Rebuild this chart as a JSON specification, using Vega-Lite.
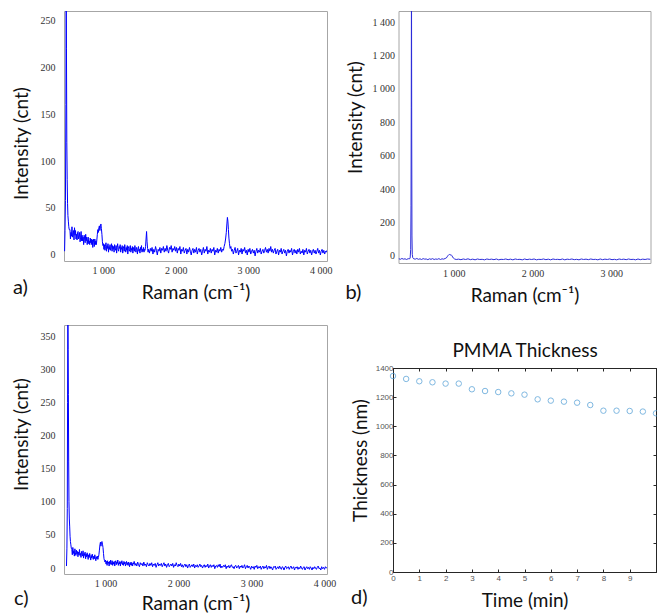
{
  "$schema": "https://vega.github.io/schema/vega-lite/v6.json",
  "background": "white",
  "padding": {"left": 11, "top": 10, "right": 0, "bottom": 0},
  "config": {
    "locale": {"number": {"decimal": ".", "thousands": " ", "grouping": [3], "currency": ["", ""]}},
    "view": {"stroke": "#a6a6a6"},
    "axis": {"grid": false, "ticks": false, "domain": false, "labelFlush": false, "labelFont": "Liberation Serif", "labelFontSize": 10, "labelColor": "#333333", "titleFont": "Lato", "titleFontSize": 19, "titleFontWeight": "normal", "titleColor": "#111111"},
    "title": {"font": "Lato", "fontSize": 20, "fontWeight": "normal", "color": "#111111", "frame": "group"}
  },
  "datasets": {
    "a": [
      {"raman":466,"cnt":4},{"raman":472,"cnt":26},{"raman":478,"cnt":58},{"raman":484,"cnt":160},{"raman":488,"cnt":300},{"raman":492,"cnt":220},{"raman":497,"cnt":120},{"raman":502,"cnt":80},{"raman":507,"cnt":55},{"raman":512,"cnt":42},{"raman":518,"cnt":36},{"raman":524,"cnt":30},{"raman":530,"cnt":27},
      {"raman":540,"cnt":27},{"raman":547,"cnt":17},{"raman":554,"cnt":24},{"raman":561,"cnt":20},{"raman":568,"cnt":30},{"raman":575,"cnt":19},{"raman":582,"cnt":22},{"raman":589,"cnt":26},{"raman":596,"cnt":16},{"raman":603,"cnt":29},{"raman":610,"cnt":21},{"raman":617,"cnt":26},{"raman":624,"cnt":17},{"raman":631,"cnt":22},{"raman":638,"cnt":16},{"raman":645,"cnt":24},{"raman":652,"cnt":25},{"raman":659,"cnt":17},{"raman":666,"cnt":19},{"raman":673,"cnt":24},{"raman":680,"cnt":14},{"raman":687,"cnt":19},{"raman":694,"cnt":25},{"raman":701,"cnt":15},{"raman":708,"cnt":21},{"raman":715,"cnt":15},{"raman":722,"cnt":19},{"raman":729,"cnt":11},{"raman":736,"cnt":21},{"raman":743,"cnt":17},{"raman":750,"cnt":13},{"raman":757,"cnt":22},{"raman":764,"cnt":15},{"raman":771,"cnt":19},{"raman":778,"cnt":11},{"raman":785,"cnt":16},{"raman":792,"cnt":19},{"raman":799,"cnt":12},{"raman":806,"cnt":15},{"raman":813,"cnt":11},{"raman":820,"cnt":18},{"raman":827,"cnt":13},{"raman":834,"cnt":17},{"raman":841,"cnt":11},{"raman":848,"cnt":16},{"raman":855,"cnt":8},{"raman":862,"cnt":17},{"raman":869,"cnt":13},{"raman":876,"cnt":9},{"raman":883,"cnt":17},{"raman":890,"cnt":11},{"raman":897,"cnt":15},{"raman":904,"cnt":11},
      {"raman":911,"cnt":16},{"raman":918,"cnt":22},{"raman":925,"cnt":27},{"raman":932,"cnt":24},{"raman":939,"cnt":29},{"raman":946,"cnt":31},{"raman":953,"cnt":26},{"raman":960,"cnt":30},{"raman":967,"cnt":33},{"raman":974,"cnt":28},{"raman":981,"cnt":22},{"raman":988,"cnt":14},{"raman":995,"cnt":10},{"raman":1002,"cnt":12},{"raman":1009,"cnt":6},
      {"raman":1016,"cnt":11},{"raman":1023,"cnt":5},{"raman":1030,"cnt":9},{"raman":1037,"cnt":13},{"raman":1044,"cnt":4},{"raman":1051,"cnt":10},{"raman":1058,"cnt":7},{"raman":1065,"cnt":12},{"raman":1072,"cnt":3},{"raman":1079,"cnt":9},{"raman":1086,"cnt":6},{"raman":1093,"cnt":11},{"raman":1100,"cnt":5},{"raman":1107,"cnt":8},{"raman":1114,"cnt":12},{"raman":1121,"cnt":4},{"raman":1128,"cnt":10},{"raman":1135,"cnt":6},{"raman":1142,"cnt":9},{"raman":1149,"cnt":3},{"raman":1156,"cnt":11},{"raman":1163,"cnt":7},{"raman":1170,"cnt":5},{"raman":1177,"cnt":10},{"raman":1184,"cnt":2},{"raman":1191,"cnt":8},{"raman":1198,"cnt":12},{"raman":1205,"cnt":6},{"raman":1212,"cnt":4},{"raman":1219,"cnt":9},{"raman":1226,"cnt":7},{"raman":1233,"cnt":11},{"raman":1240,"cnt":3},{"raman":1247,"cnt":8},{"raman":1254,"cnt":6},{"raman":1261,"cnt":10},{"raman":1268,"cnt":2},{"raman":1275,"cnt":7},{"raman":1282,"cnt":9},{"raman":1289,"cnt":4},{"raman":1296,"cnt":11},{"raman":1303,"cnt":6},{"raman":1310,"cnt":3},{"raman":1317,"cnt":8},{"raman":1324,"cnt":5},{"raman":1331,"cnt":10},{"raman":1338,"cnt":1},{"raman":1345,"cnt":7},{"raman":1352,"cnt":9},{"raman":1359,"cnt":4},{"raman":1366,"cnt":6},{"raman":1373,"cnt":10},{"raman":1380,"cnt":3},{"raman":1387,"cnt":7},{"raman":1394,"cnt":5},{"raman":1401,"cnt":9},{"raman":1408,"cnt":2},{"raman":1415,"cnt":8},{"raman":1422,"cnt":6},{"raman":1429,"cnt":4},{"raman":1436,"cnt":10},{"raman":1443,"cnt":5},{"raman":1450,"cnt":3},{"raman":1457,"cnt":8},{"raman":1464,"cnt":6},{"raman":1471,"cnt":1},{"raman":1478,"cnt":7},{"raman":1485,"cnt":9},{"raman":1492,"cnt":4},{"raman":1499,"cnt":6},{"raman":1506,"cnt":2},{"raman":1513,"cnt":8},{"raman":1520,"cnt":5},{"raman":1527,"cnt":10},{"raman":1534,"cnt":3},{"raman":1541,"cnt":6},{"raman":1548,"cnt":4},{"raman":1555,"cnt":8},{"raman":1562,"cnt":3},{"raman":1569,"cnt":6},{"raman":1576,"cnt":5},{"raman":1583,"cnt":9},{"raman":1590,"cnt":17},{"raman":1597,"cnt":25},{"raman":1604,"cnt":14},{"raman":1611,"cnt":7},{"raman":1618,"cnt":3},{"raman":1625,"cnt":6},
      {"raman":1637,"cnt":2},{"raman":1649,"cnt":7},{"raman":1661,"cnt":4},{"raman":1673,"cnt":8},{"raman":1685,"cnt":1},{"raman":1697,"cnt":6},{"raman":1709,"cnt":3},{"raman":1721,"cnt":9},{"raman":1733,"cnt":5},{"raman":1745,"cnt":0},{"raman":1757,"cnt":6},{"raman":1769,"cnt":4},{"raman":1781,"cnt":8},{"raman":1793,"cnt":2},{"raman":1805,"cnt":7},{"raman":1817,"cnt":5},{"raman":1829,"cnt":9},{"raman":1841,"cnt":3},{"raman":1853,"cnt":7},{"raman":1865,"cnt":4},{"raman":1877,"cnt":10},{"raman":1889,"cnt":5},{"raman":1901,"cnt":2},{"raman":1913,"cnt":8},{"raman":1925,"cnt":6},{"raman":1937,"cnt":10},{"raman":1949,"cnt":3},{"raman":1961,"cnt":7},{"raman":1973,"cnt":5},{"raman":1985,"cnt":9},{"raman":1997,"cnt":4},{"raman":2009,"cnt":8},{"raman":2021,"cnt":2},{"raman":2033,"cnt":7},{"raman":2045,"cnt":5},{"raman":2057,"cnt":9},{"raman":2069,"cnt":1},{"raman":2081,"cnt":6},{"raman":2093,"cnt":4},{"raman":2105,"cnt":8},{"raman":2117,"cnt":2},{"raman":2129,"cnt":5},{"raman":2141,"cnt":7},{"raman":2153,"cnt":1},{"raman":2165,"cnt":6},{"raman":2177,"cnt":3},{"raman":2189,"cnt":8},{"raman":2201,"cnt":4},{"raman":2213,"cnt":0},{"raman":2225,"cnt":5},{"raman":2237,"cnt":7},{"raman":2249,"cnt":2},{"raman":2261,"cnt":6},{"raman":2273,"cnt":3},{"raman":2285,"cnt":8},{"raman":2297,"cnt":1},{"raman":2309,"cnt":5},{"raman":2321,"cnt":7},{"raman":2333,"cnt":3},{"raman":2345,"cnt":6},{"raman":2357,"cnt":0},{"raman":2369,"cnt":4},{"raman":2381,"cnt":8},{"raman":2393,"cnt":2},{"raman":2405,"cnt":6},{"raman":2417,"cnt":4},{"raman":2429,"cnt":9},{"raman":2441,"cnt":1},{"raman":2453,"cnt":5},{"raman":2465,"cnt":3},{"raman":2477,"cnt":7},{"raman":2489,"cnt":2},{"raman":2501,"cnt":6},{"raman":2513,"cnt":4},{"raman":2525,"cnt":8},{"raman":2537,"cnt":0},{"raman":2549,"cnt":5},{"raman":2561,"cnt":3},{"raman":2573,"cnt":7},{"raman":2585,"cnt":2},{"raman":2597,"cnt":6},{"raman":2609,"cnt":4},{"raman":2621,"cnt":8},{"raman":2633,"cnt":3},{"raman":2645,"cnt":6},
      {"raman":2657,"cnt":5},{"raman":2667,"cnt":9},{"raman":2677,"cnt":12},{"raman":2687,"cnt":17},{"raman":2697,"cnt":24},{"raman":2705,"cnt":33},{"raman":2712,"cnt":40},{"raman":2719,"cnt":36},{"raman":2726,"cnt":27},{"raman":2733,"cnt":18},{"raman":2741,"cnt":12},{"raman":2750,"cnt":7},{"raman":2760,"cnt":9},{"raman":2770,"cnt":4},
      {"raman":2782,"cnt":6},{"raman":2794,"cnt":1},{"raman":2806,"cnt":5},{"raman":2818,"cnt":8},{"raman":2830,"cnt":2},{"raman":2842,"cnt":4},{"raman":2854,"cnt":7},{"raman":2866,"cnt":0},{"raman":2878,"cnt":5},{"raman":2890,"cnt":3},{"raman":2902,"cnt":7},{"raman":2914,"cnt":1},{"raman":2926,"cnt":6},{"raman":2938,"cnt":4},{"raman":2950,"cnt":8},{"raman":2962,"cnt":2},{"raman":2974,"cnt":5},{"raman":2986,"cnt":0},{"raman":2998,"cnt":6},{"raman":3010,"cnt":3},{"raman":3022,"cnt":7},{"raman":3034,"cnt":1},{"raman":3046,"cnt":4},{"raman":3058,"cnt":6},{"raman":3070,"cnt":2},{"raman":3082,"cnt":5},{"raman":3094,"cnt":-1},{"raman":3106,"cnt":4},{"raman":3118,"cnt":7},{"raman":3130,"cnt":2},{"raman":3142,"cnt":5},{"raman":3154,"cnt":3},{"raman":3166,"cnt":7},{"raman":3178,"cnt":1},{"raman":3190,"cnt":4},{"raman":3202,"cnt":6},{"raman":3214,"cnt":2},{"raman":3226,"cnt":5},{"raman":3238,"cnt":8},{"raman":3250,"cnt":3},{"raman":3262,"cnt":6},{"raman":3274,"cnt":2},{"raman":3286,"cnt":7},{"raman":3298,"cnt":4},{"raman":3310,"cnt":9},{"raman":3322,"cnt":3},{"raman":3334,"cnt":6},{"raman":3346,"cnt":2},{"raman":3358,"cnt":5},{"raman":3370,"cnt":7},{"raman":3382,"cnt":1},{"raman":3394,"cnt":4},{"raman":3406,"cnt":6},{"raman":3418,"cnt":0},{"raman":3430,"cnt":5},{"raman":3442,"cnt":3},{"raman":3454,"cnt":7},{"raman":3466,"cnt":1},{"raman":3478,"cnt":4},{"raman":3490,"cnt":6},{"raman":3502,"cnt":2},{"raman":3514,"cnt":5},{"raman":3526,"cnt":-1},{"raman":3538,"cnt":4},{"raman":3550,"cnt":6},{"raman":3562,"cnt":2},{"raman":3574,"cnt":5},{"raman":3586,"cnt":3},{"raman":3598,"cnt":7},{"raman":3610,"cnt":0},{"raman":3622,"cnt":4},{"raman":3634,"cnt":6},{"raman":3646,"cnt":2},{"raman":3658,"cnt":5},{"raman":3670,"cnt":1},{"raman":3682,"cnt":6},{"raman":3694,"cnt":3},{"raman":3706,"cnt":7},{"raman":3718,"cnt":1},{"raman":3730,"cnt":4},{"raman":3742,"cnt":2},{"raman":3754,"cnt":6},{"raman":3766,"cnt":0},{"raman":3778,"cnt":5},{"raman":3790,"cnt":3},{"raman":3802,"cnt":7},{"raman":3814,"cnt":1},{"raman":3826,"cnt":4},{"raman":3838,"cnt":6},{"raman":3850,"cnt":2},{"raman":3862,"cnt":5},{"raman":3874,"cnt":0},{"raman":3886,"cnt":4},{"raman":3898,"cnt":6},{"raman":3910,"cnt":2},{"raman":3922,"cnt":5},{"raman":3934,"cnt":1},{"raman":3946,"cnt":4},{"raman":3958,"cnt":7},{"raman":3970,"cnt":2},{"raman":3982,"cnt":5},{"raman":3994,"cnt":0},{"raman":4006,"cnt":4},{"raman":4018,"cnt":6},{"raman":4030,"cnt":2},{"raman":4042,"cnt":5},{"raman":4054,"cnt":1},{"raman":4066,"cnt":4},{"raman":4078,"cnt":3},{"raman":4086,"cnt":5}
    ],
    "b": [
      {"raman":300,"cnt":-16},{"raman":320,"cnt":-20},{"raman":340,"cnt":-15},{"raman":360,"cnt":-19},{"raman":380,"cnt":-17},{"raman":400,"cnt":-21},{"raman":420,"cnt":-16},{"raman":435,"cnt":-18},{"raman":445,"cnt":-12},{"raman":452,"cnt":40},{"raman":456,"cnt":300},{"raman":459,"cnt":890},{"raman":462,"cnt":1700},{"raman":465,"cnt":700},{"raman":468,"cnt":120},{"raman":472,"cnt":10},{"raman":478,"cnt":-10},{"raman":490,"cnt":-17},{"raman":510,"cnt":-19},{"raman":530,"cnt":-15},{"raman":550,"cnt":-20},{"raman":570,"cnt":-17},{"raman":590,"cnt":-21},{"raman":610,"cnt":-16},{"raman":630,"cnt":-19},{"raman":650,"cnt":-18},{"raman":670,"cnt":-22},{"raman":690,"cnt":-17},{"raman":710,"cnt":-20},{"raman":730,"cnt":-16},{"raman":750,"cnt":-21},{"raman":770,"cnt":-18},{"raman":790,"cnt":-20},{"raman":810,"cnt":-16},{"raman":830,"cnt":-21},{"raman":850,"cnt":-17},{"raman":870,"cnt":-19},{"raman":890,"cnt":-15},{"raman":905,"cnt":-12},{"raman":915,"cnt":-5},{"raman":925,"cnt":2},{"raman":935,"cnt":7},{"raman":945,"cnt":9},{"raman":955,"cnt":6},{"raman":965,"cnt":8},{"raman":975,"cnt":2},{"raman":985,"cnt":-6},{"raman":995,"cnt":-13},{"raman":1010,"cnt":-18},{"raman":1030,"cnt":-21},
      {"raman":1060,"cnt":-19},{"raman":1090,"cnt":-22},{"raman":1120,"cnt":-18},{"raman":1150,"cnt":-21},{"raman":1180,"cnt":-17},{"raman":1210,"cnt":-22},{"raman":1240,"cnt":-19},{"raman":1270,"cnt":-23},{"raman":1300,"cnt":-18},{"raman":1330,"cnt":-21},{"raman":1360,"cnt":-20},{"raman":1390,"cnt":-23},{"raman":1420,"cnt":-18},{"raman":1450,"cnt":-21},{"raman":1480,"cnt":-19},{"raman":1510,"cnt":-22},{"raman":1540,"cnt":-18},{"raman":1570,"cnt":-23},{"raman":1600,"cnt":-20},{"raman":1630,"cnt":-21},{"raman":1660,"cnt":-18},{"raman":1690,"cnt":-22},{"raman":1720,"cnt":-19},{"raman":1750,"cnt":-23},{"raman":1780,"cnt":-18},{"raman":1810,"cnt":-21},{"raman":1840,"cnt":-20},{"raman":1870,"cnt":-23},{"raman":1900,"cnt":-18},{"raman":1930,"cnt":-22},{"raman":1960,"cnt":-19},{"raman":1990,"cnt":-21},{"raman":2020,"cnt":-18},{"raman":2050,"cnt":-23},{"raman":2080,"cnt":-20},{"raman":2110,"cnt":-21},{"raman":2140,"cnt":-18},{"raman":2170,"cnt":-22},{"raman":2200,"cnt":-19},{"raman":2230,"cnt":-23},{"raman":2260,"cnt":-18},{"raman":2290,"cnt":-21},{"raman":2320,"cnt":-20},{"raman":2350,"cnt":-22},{"raman":2380,"cnt":-18},{"raman":2410,"cnt":-23},{"raman":2440,"cnt":-19},{"raman":2470,"cnt":-21},{"raman":2500,"cnt":-18},{"raman":2530,"cnt":-22},{"raman":2560,"cnt":-20},{"raman":2590,"cnt":-23},{"raman":2620,"cnt":-18},{"raman":2650,"cnt":-21},{"raman":2680,"cnt":-19},{"raman":2710,"cnt":-22},{"raman":2740,"cnt":-18},{"raman":2770,"cnt":-21},{"raman":2800,"cnt":-20},{"raman":2830,"cnt":-23},{"raman":2860,"cnt":-18},{"raman":2890,"cnt":-22},{"raman":2920,"cnt":-19},{"raman":2950,"cnt":-21},{"raman":2980,"cnt":-18},{"raman":3010,"cnt":-22},{"raman":3040,"cnt":-20},{"raman":3070,"cnt":-23},{"raman":3100,"cnt":-18},{"raman":3130,"cnt":-21},{"raman":3160,"cnt":-19},{"raman":3190,"cnt":-22},{"raman":3220,"cnt":-18},{"raman":3250,"cnt":-21},{"raman":3280,"cnt":-20},{"raman":3310,"cnt":-23},{"raman":3340,"cnt":-18},{"raman":3370,"cnt":-22},{"raman":3400,"cnt":-19},{"raman":3430,"cnt":-21},{"raman":3460,"cnt":-18},{"raman":3499,"cnt":-20}
    ],
    "c": [
      {"raman":466,"cnt":3},{"raman":472,"cnt":30},{"raman":477,"cnt":90},{"raman":481,"cnt":250},{"raman":485,"cnt":420},{"raman":489,"cnt":330},{"raman":492,"cnt":262},{"raman":496,"cnt":160},{"raman":500,"cnt":100},{"raman":505,"cnt":74},{"raman":510,"cnt":62},{"raman":515,"cnt":48},{"raman":520,"cnt":40},{"raman":526,"cnt":35},{"raman":532,"cnt":30},
      {"raman":539,"cnt":28},{"raman":546,"cnt":20},{"raman":553,"cnt":31},{"raman":560,"cnt":22},{"raman":567,"cnt":26},{"raman":574,"cnt":18},{"raman":581,"cnt":29},{"raman":588,"cnt":23},{"raman":595,"cnt":19},{"raman":602,"cnt":27},{"raman":609,"cnt":21},{"raman":616,"cnt":25},{"raman":623,"cnt":17},{"raman":630,"cnt":24},{"raman":637,"cnt":20},{"raman":644,"cnt":28},{"raman":651,"cnt":19},{"raman":658,"cnt":22},{"raman":665,"cnt":16},{"raman":672,"cnt":25},{"raman":679,"cnt":21},{"raman":686,"cnt":18},{"raman":693,"cnt":26},{"raman":700,"cnt":15},{"raman":707,"cnt":22},{"raman":714,"cnt":19},{"raman":721,"cnt":24},{"raman":728,"cnt":14},{"raman":735,"cnt":21},{"raman":742,"cnt":17},{"raman":749,"cnt":23},{"raman":756,"cnt":18},{"raman":763,"cnt":13},{"raman":770,"cnt":20},{"raman":777,"cnt":16},{"raman":784,"cnt":22},{"raman":791,"cnt":17},{"raman":798,"cnt":12},{"raman":805,"cnt":19},{"raman":812,"cnt":15},{"raman":819,"cnt":21},{"raman":826,"cnt":16},{"raman":833,"cnt":13},{"raman":840,"cnt":18},{"raman":847,"cnt":14},{"raman":854,"cnt":20},{"raman":861,"cnt":15},{"raman":868,"cnt":11},{"raman":875,"cnt":17},{"raman":882,"cnt":14},{"raman":889,"cnt":18},{"raman":896,"cnt":13},{"raman":903,"cnt":16},
      {"raman":910,"cnt":20},{"raman":917,"cnt":27},{"raman":924,"cnt":35},{"raman":931,"cnt":39},{"raman":938,"cnt":33},{"raman":945,"cnt":38},{"raman":952,"cnt":40},{"raman":959,"cnt":36},{"raman":966,"cnt":31},{"raman":973,"cnt":22},{"raman":980,"cnt":14},{"raman":987,"cnt":11},{"raman":994,"cnt":9},
      {"raman":1001,"cnt":12},{"raman":1008,"cnt":6},{"raman":1015,"cnt":10},{"raman":1022,"cnt":4},{"raman":1029,"cnt":11},{"raman":1036,"cnt":7},{"raman":1043,"cnt":9},{"raman":1050,"cnt":3},{"raman":1057,"cnt":10},{"raman":1064,"cnt":6},{"raman":1071,"cnt":12},{"raman":1078,"cnt":5},{"raman":1085,"cnt":8},{"raman":1092,"cnt":11},{"raman":1099,"cnt":4},{"raman":1106,"cnt":9},{"raman":1113,"cnt":6},{"raman":1120,"cnt":10},{"raman":1127,"cnt":3},{"raman":1134,"cnt":8},{"raman":1141,"cnt":11},{"raman":1148,"cnt":5},{"raman":1155,"cnt":9},{"raman":1162,"cnt":7},{"raman":1169,"cnt":12},{"raman":1176,"cnt":4},{"raman":1183,"cnt":8},{"raman":1190,"cnt":6},{"raman":1197,"cnt":10},{"raman":1204,"cnt":3},{"raman":1211,"cnt":9},{"raman":1218,"cnt":7},{"raman":1225,"cnt":11},{"raman":1232,"cnt":5},{"raman":1239,"cnt":8},{"raman":1246,"cnt":4},{"raman":1253,"cnt":10},{"raman":1260,"cnt":6},{"raman":1267,"cnt":9},{"raman":1274,"cnt":3},{"raman":1281,"cnt":7},{"raman":1288,"cnt":10},{"raman":1295,"cnt":5},{"raman":1302,"cnt":8},{"raman":1309,"cnt":4},{"raman":1316,"cnt":9},{"raman":1323,"cnt":6},{"raman":1330,"cnt":2},{"raman":1337,"cnt":8},{"raman":1344,"cnt":5},{"raman":1351,"cnt":9},{"raman":1358,"cnt":4},{"raman":1365,"cnt":7},{"raman":1372,"cnt":3},{"raman":1379,"cnt":8},{"raman":1386,"cnt":6},{"raman":1393,"cnt":10},
      {"raman":1405,"cnt":4},{"raman":1417,"cnt":7},{"raman":1429,"cnt":3},{"raman":1441,"cnt":9},{"raman":1453,"cnt":5},{"raman":1465,"cnt":2},{"raman":1477,"cnt":8},{"raman":1489,"cnt":5},{"raman":1501,"cnt":7},{"raman":1513,"cnt":3},{"raman":1525,"cnt":9},{"raman":1537,"cnt":4},{"raman":1549,"cnt":6},{"raman":1561,"cnt":2},{"raman":1573,"cnt":8},{"raman":1585,"cnt":5},{"raman":1597,"cnt":3},{"raman":1609,"cnt":7},{"raman":1621,"cnt":4},{"raman":1633,"cnt":8},{"raman":1645,"cnt":2},{"raman":1657,"cnt":6},{"raman":1669,"cnt":4},{"raman":1681,"cnt":7},{"raman":1693,"cnt":1},{"raman":1705,"cnt":5},{"raman":1717,"cnt":8},{"raman":1729,"cnt":3},{"raman":1741,"cnt":6},{"raman":1753,"cnt":4},{"raman":1765,"cnt":7},{"raman":1777,"cnt":2},{"raman":1789,"cnt":5},{"raman":1801,"cnt":8},{"raman":1813,"cnt":3},{"raman":1825,"cnt":6},{"raman":1837,"cnt":1},{"raman":1849,"cnt":5},{"raman":1861,"cnt":7},{"raman":1873,"cnt":2},{"raman":1885,"cnt":4},{"raman":1897,"cnt":6},{"raman":1909,"cnt":3},{"raman":1921,"cnt":7},{"raman":1933,"cnt":1},{"raman":1945,"cnt":5},{"raman":1957,"cnt":3},{"raman":1969,"cnt":8},{"raman":1981,"cnt":4},{"raman":1993,"cnt":2},
      {"raman":2005,"cnt":6},{"raman":2017,"cnt":3},{"raman":2029,"cnt":7},{"raman":2041,"cnt":2},{"raman":2053,"cnt":5},{"raman":2065,"cnt":1},{"raman":2077,"cnt":4},{"raman":2089,"cnt":6},{"raman":2101,"cnt":2},{"raman":2113,"cnt":5},{"raman":2125,"cnt":0},{"raman":2137,"cnt":4},{"raman":2149,"cnt":6},{"raman":2161,"cnt":1},{"raman":2173,"cnt":3},{"raman":2185,"cnt":5},{"raman":2197,"cnt":2},{"raman":2209,"cnt":6},{"raman":2221,"cnt":0},{"raman":2233,"cnt":4},{"raman":2245,"cnt":2},{"raman":2257,"cnt":5},{"raman":2269,"cnt":1},{"raman":2281,"cnt":3},{"raman":2293,"cnt":6},{"raman":2305,"cnt":2},{"raman":2317,"cnt":4},{"raman":2329,"cnt":0},{"raman":2341,"cnt":3},{"raman":2353,"cnt":5},{"raman":2365,"cnt":1},{"raman":2377,"cnt":4},{"raman":2389,"cnt":2},{"raman":2401,"cnt":6},{"raman":2413,"cnt":0},{"raman":2425,"cnt":3},{"raman":2437,"cnt":5},{"raman":2449,"cnt":1},{"raman":2461,"cnt":4},{"raman":2473,"cnt":2},{"raman":2485,"cnt":5},{"raman":2497,"cnt":-1},{"raman":2509,"cnt":3},{"raman":2521,"cnt":4},{"raman":2533,"cnt":1},{"raman":2545,"cnt":5},{"raman":2557,"cnt":2},{"raman":2569,"cnt":6},{"raman":2581,"cnt":0},{"raman":2593,"cnt":3},{"raman":2605,"cnt":1},{"raman":2617,"cnt":4},{"raman":2629,"cnt":2},{"raman":2641,"cnt":5},{"raman":2653,"cnt":-1},{"raman":2665,"cnt":3},{"raman":2677,"cnt":1},{"raman":2689,"cnt":4},{"raman":2701,"cnt":0},{"raman":2713,"cnt":3},{"raman":2725,"cnt":5},{"raman":2737,"cnt":1},{"raman":2749,"cnt":2},{"raman":2761,"cnt":-1},{"raman":2773,"cnt":3},{"raman":2785,"cnt":4},{"raman":2797,"cnt":0},{"raman":2809,"cnt":2},{"raman":2821,"cnt":4},{"raman":2833,"cnt":-1},{"raman":2845,"cnt":3},{"raman":2857,"cnt":1},{"raman":2869,"cnt":4},{"raman":2881,"cnt":0},{"raman":2893,"cnt":2},{"raman":2905,"cnt":5},{"raman":2917,"cnt":-1},{"raman":2929,"cnt":2},{"raman":2941,"cnt":4},{"raman":2953,"cnt":0},{"raman":2965,"cnt":3},{"raman":2977,"cnt":1},{"raman":2989,"cnt":-2},
      {"raman":3001,"cnt":3},{"raman":3013,"cnt":0},{"raman":3025,"cnt":2},{"raman":3037,"cnt":-2},{"raman":3049,"cnt":3},{"raman":3061,"cnt":1},{"raman":3073,"cnt":4},{"raman":3085,"cnt":-1},{"raman":3097,"cnt":2},{"raman":3109,"cnt":0},{"raman":3121,"cnt":3},{"raman":3133,"cnt":-2},{"raman":3145,"cnt":1},{"raman":3157,"cnt":3},{"raman":3169,"cnt":-1},{"raman":3181,"cnt":2},{"raman":3193,"cnt":0},{"raman":3205,"cnt":4},{"raman":3217,"cnt":-2},{"raman":3229,"cnt":1},{"raman":3241,"cnt":3},{"raman":3253,"cnt":-1},{"raman":3265,"cnt":2},{"raman":3277,"cnt":0},{"raman":3289,"cnt":-3},{"raman":3301,"cnt":2},{"raman":3313,"cnt":1},{"raman":3325,"cnt":3},{"raman":3337,"cnt":-2},{"raman":3349,"cnt":0},{"raman":3361,"cnt":2},{"raman":3373,"cnt":-1},{"raman":3385,"cnt":3},{"raman":3397,"cnt":0},{"raman":3409,"cnt":-2},{"raman":3421,"cnt":2},{"raman":3433,"cnt":1},{"raman":3445,"cnt":-3},{"raman":3457,"cnt":1},{"raman":3469,"cnt":3},{"raman":3481,"cnt":-1},{"raman":3493,"cnt":0},{"raman":3505,"cnt":2},{"raman":3517,"cnt":-2},{"raman":3529,"cnt":1},{"raman":3541,"cnt":3},{"raman":3553,"cnt":-1},{"raman":3565,"cnt":0},{"raman":3577,"cnt":2},{"raman":3589,"cnt":-3},{"raman":3601,"cnt":1},{"raman":3613,"cnt":0},{"raman":3625,"cnt":2},{"raman":3637,"cnt":-2},{"raman":3649,"cnt":1},{"raman":3661,"cnt":-1},{"raman":3673,"cnt":3},{"raman":3685,"cnt":0},{"raman":3697,"cnt":-2},{"raman":3709,"cnt":1},{"raman":3721,"cnt":2},{"raman":3733,"cnt":-3},{"raman":3745,"cnt":0},{"raman":3757,"cnt":2},{"raman":3769,"cnt":-1},{"raman":3781,"cnt":1},{"raman":3793,"cnt":-2},{"raman":3805,"cnt":2},{"raman":3817,"cnt":0},{"raman":3829,"cnt":-3},{"raman":3841,"cnt":1},{"raman":3853,"cnt":-1},{"raman":3865,"cnt":2},{"raman":3877,"cnt":0},{"raman":3889,"cnt":-2},{"raman":3901,"cnt":1},{"raman":3913,"cnt":3},{"raman":3925,"cnt":-1},{"raman":3937,"cnt":0},{"raman":3949,"cnt":-3},{"raman":3961,"cnt":2},{"raman":3973,"cnt":-1},{"raman":3985,"cnt":1},{"raman":4000,"cnt":-2},{"raman":4012,"cnt":2},{"raman":4024,"cnt":0},{"raman":4034,"cnt":1}
    ],
    "d": [
      {"time":0,"thickness":1345},{"time":0.5,"thickness":1325},{"time":1,"thickness":1309},{"time":1.5,"thickness":1302},{"time":2,"thickness":1293},{"time":2.5,"thickness":1293},{"time":3,"thickness":1254},{"time":3.5,"thickness":1242},{"time":4,"thickness":1235},{"time":4.5,"thickness":1226},{"time":5,"thickness":1217},{"time":5.5,"thickness":1185},{"time":6,"thickness":1176},{"time":6.5,"thickness":1169},{"time":7,"thickness":1162},{"time":7.5,"thickness":1146},{"time":8,"thickness":1107},{"time":8.5,"thickness":1107},{"time":9,"thickness":1105},{"time":9.5,"thickness":1101},{"time":10,"thickness":1089}
    ]
  },
  "spacing": 8,
  "hconcat": [
    {
      "vconcat": [
        {
          "width": 263, "height": 250,
          "data": {"name": "a"},
          "title": {"text": "a)", "orient": "bottom", "anchor": "start", "dx": -51, "dy": -28},
          "mark": {"type": "line", "color": "#0000ff", "strokeWidth": 1, "clip": true},
          "encoding": {
            "x": {"field": "raman", "type": "quantitative", "scale": {"domain": [458, 4086], "nice": false, "zero": false},
                  "axis": {"title": "Raman (cm⁻¹)", "values": [1000, 2000, 3000, 4000], "format": ",d", "labelPadding": 4, "titlePadding": 8}},
            "y": {"field": "cnt", "type": "quantitative", "scale": {"domain": [-6.4, 259.6], "nice": false},
                  "axis": {"title": "Intensity (cnt)", "values": [0, 50, 100, 150, 200, 250], "labelPadding": 9, "titlePadding": 9, "titleY": 132}}
          }
        },
        {
          "width": 263, "height": 249,
          "data": {"name": "c"},
          "title": {"text": "c)", "orient": "bottom", "anchor": "start", "dx": -50, "dy": -28},
          "mark": {"type": "line", "color": "#0000ff", "strokeWidth": 1, "clip": true},
          "encoding": {
            "x": {"field": "raman", "type": "quantitative", "scale": {"domain": [432, 4034], "nice": false, "zero": false},
                  "axis": {"title": "Raman (cm⁻¹)", "values": [1000, 2000, 3000, 4000], "format": ",d", "labelPadding": 4, "titlePadding": 6}},
            "y": {"field": "cnt", "type": "quantitative", "scale": {"domain": [-9, 366.6], "nice": false},
                  "axis": {"title": "Intensity (cnt)", "values": [0, 50, 100, 150, 200, 250, 300, 350], "labelPadding": 9, "titlePadding": 9, "titleY": 109}}
          }
        }
      ],
      "spacing": 64,
      "bounds": "flush"
    },
    {
      "vconcat": [
        {
          "width": 252, "height": 252,
          "data": {"name": "b"},
          "title": {"text": "b)", "orient": "bottom", "anchor": "start", "dx": -53, "dy": -26},
          "mark": {"type": "line", "color": "#2b2bd9", "strokeWidth": 1, "clip": true},
          "encoding": {
            "x": {"field": "raman", "type": "quantitative", "scale": {"domain": [297, 3499], "nice": false, "zero": false},
                  "axis": {"title": "Raman (cm⁻¹)", "values": [1000, 2000, 3000], "format": ",d", "labelPadding": 5, "titlePadding": 8}},
            "y": {"field": "cnt", "type": "quantitative", "scale": {"domain": [-42, 1466], "nice": false},
                  "axis": {"title": "Intensity (cnt)", "values": [0, 200, 400, 600, 800, 1000, 1200, 1400], "format": ",d", "labelPadding": 4, "titlePadding": 7, "titleY": 106}}
          }
        },
        {
          "width": 263, "height": 204,
          "data": {"name": "d"},
          "view": {"stroke": "#262626"},
          "title": {"text": "d)", "orient": "bottom", "anchor": "start", "dx": -42, "dy": -26},
          "layer": [
            {
              "mark": {"type": "point", "shape": "circle", "filled": false, "color": "#4b9bd5", "size": 30, "strokeWidth": 1, "clip": false},
              "encoding": {
                "x": {"field": "time", "type": "quantitative", "scale": {"domain": [0, 10], "nice": false},
                      "axis": {"title": "Time (min)", "values": [0, 1, 2, 3, 4, 5, 6, 7, 8, 9], "domain": true, "domainColor": "#262626", "ticks": true, "tickColor": "#262626", "tickSize": -3, "labelFont": "Liberation Sans", "labelFontSize": 8, "labelColor": "#555555", "labelPadding": 5, "titlePadding": 9}},
                "y": {"field": "thickness", "type": "quantitative", "scale": {"domain": [0, 1400], "nice": false},
                      "axis": {"title": "Thickness (nm)", "values": [0, 200, 400, 600, 800, 1000, 1200, 1400], "format": "d", "domain": true, "domainColor": "#262626", "ticks": true, "tickColor": "#262626", "tickSize": -3, "labelFont": "Liberation Sans", "labelFontSize": 8, "labelColor": "#555555", "labelPadding": 3, "titlePadding": 5, "titleY": 92}}
              }
            },
            {
              "mark": {"type": "point", "opacity": 0, "clip": true},
              "encoding": {
                "x": {"field": "time", "type": "quantitative", "scale": {"domain": [0, 10], "nice": false},
                      "axis": {"orient": "top", "title": "PMMA Thickness", "titleFontSize": 19, "labels": false, "values": [0, 1, 2, 3, 4, 5, 6, 7, 8, 9], "domain": true, "domainColor": "#262626", "ticks": true, "tickColor": "#262626", "tickSize": -3, "titlePadding": 7}},
                "y": {"field": "thickness", "type": "quantitative", "scale": {"domain": [0, 1400], "nice": false},
                      "axis": {"orient": "right", "title": null, "labels": false, "values": [0, 200, 400, 600, 800, 1000, 1200, 1400], "domain": true, "domainColor": "#262626", "ticks": true, "tickColor": "#262626", "tickSize": -3}}
              }
            }
          ],
          "resolve": {"axis": {"x": "independent", "y": "independent"}}
        }
      ],
      "spacing": 105,
      "bounds": "flush",
      "center": true
    }
  ]
}
